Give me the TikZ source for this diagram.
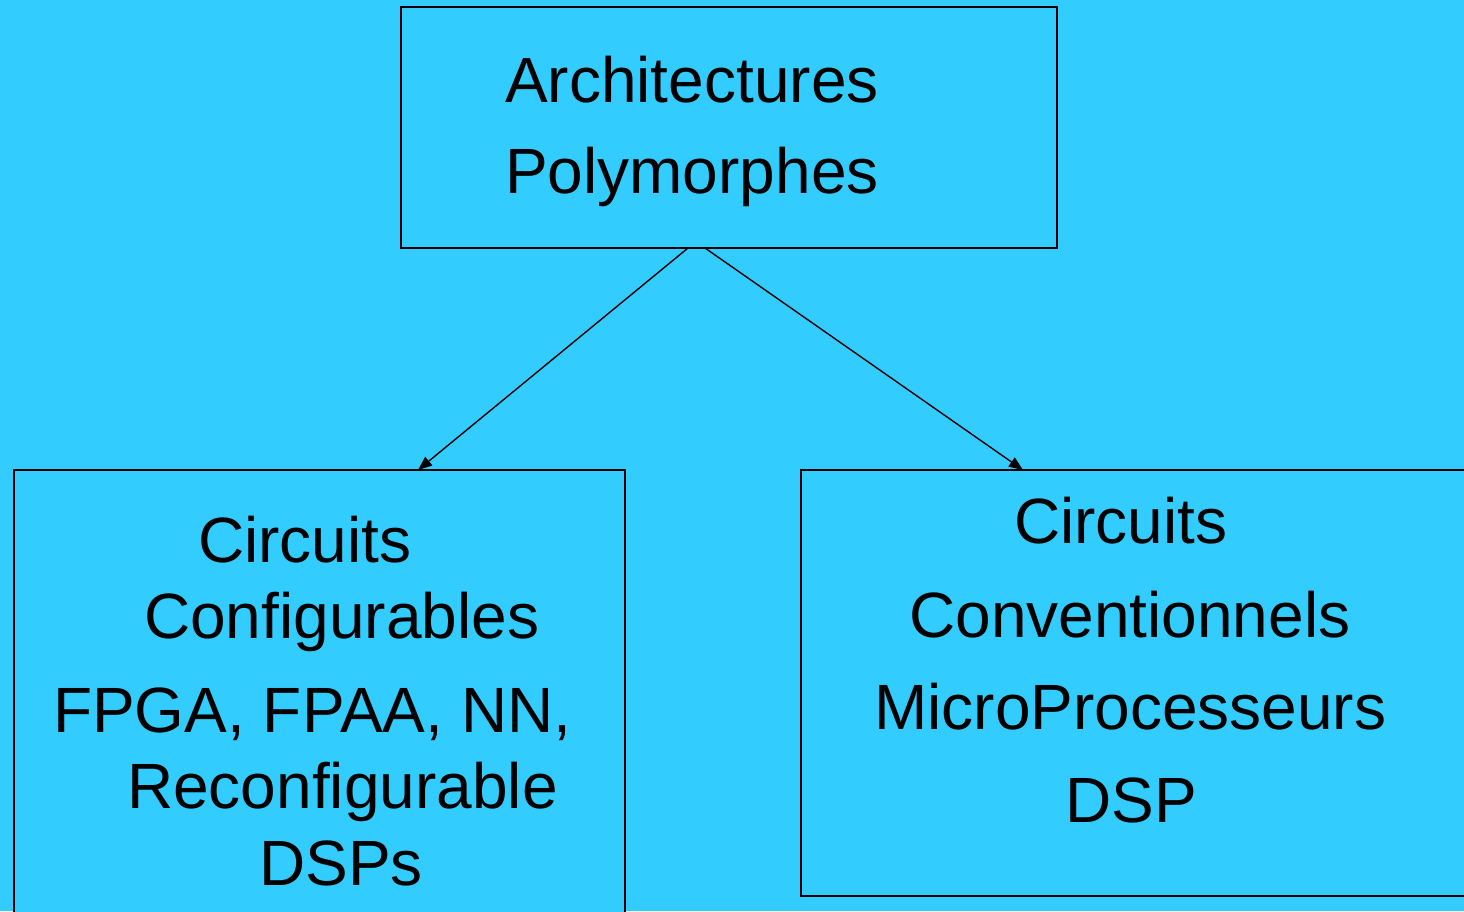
\documentclass[tikz,border=0pt]{standalone}
\usepackage{fontspec}
\setmainfont{Liberation Sans}
\usetikzlibrary{arrows.meta}
\definecolor{skyback}{HTML}{33CCFF}
\tikzset{
  box/.style={draw=black, line width=1.8pt, rectangle, inner sep=0pt, outer sep=0pt, fill=skyback},
  line/.style={anchor=base west, inner sep=0pt, font=\fontsize{64}{77}\selectfont},
  link/.style={draw=black, line width=1.4pt, -{Triangle[length=14pt,width=11pt]}}
}
\begin{document}
\begin{tikzpicture}[x=1pt, y=-1pt]
  % page frame and backdrop
  \useasboundingbox (0,0) rectangle (1464,911);
  \clip (0,0) rectangle (1464,911);
  \fill[skyback] (0,0) rectangle (1464,911);

  % the three boxes
  \node[box, minimum width=656pt, minimum height=241pt, anchor=north west] (top) at (401,7) {};
  \node[box, minimum width=611pt, minimum height=460pt, anchor=north west] (left) at (14,470) {};
  \node[box, minimum width=680pt, minimum height=426pt, anchor=north west] (right) at (801,470) {};

  % top box text
  \node[line] (t1) at (505,102) {Architectures};
  \node[line] (t2) at (505,193) {Polymorphes};

  % left box text
  \node[line] (l1) at (198,562) {Circuits};
  \node[line] (l2) at (144,638) {Configurables};
  \node[line] (l3) at (53,732) {FPGA, FPAA, NN,};
  \node[line] (l4) at (127,808) {Reconfigurable};
  \node[line] (l5) at (259,885) {DSPs};

  % right box text
  \node[line] (r1) at (1014,543) {Circuits};
  \node[line] (r2) at (909,637) {Conventionnels};
  \node[line] (r3) at (874,729) {MicroProcesseurs};
  \node[line] (r4) at (1065,822) {DSP};

  % connectors
  \draw[link] ([xshift=287pt]top.south west) -- ([xshift=404pt]left.north west);
  \draw[link] ([xshift=304pt]top.south west) -- ([xshift=222pt]right.north west);
\end{tikzpicture}
\end{document}
